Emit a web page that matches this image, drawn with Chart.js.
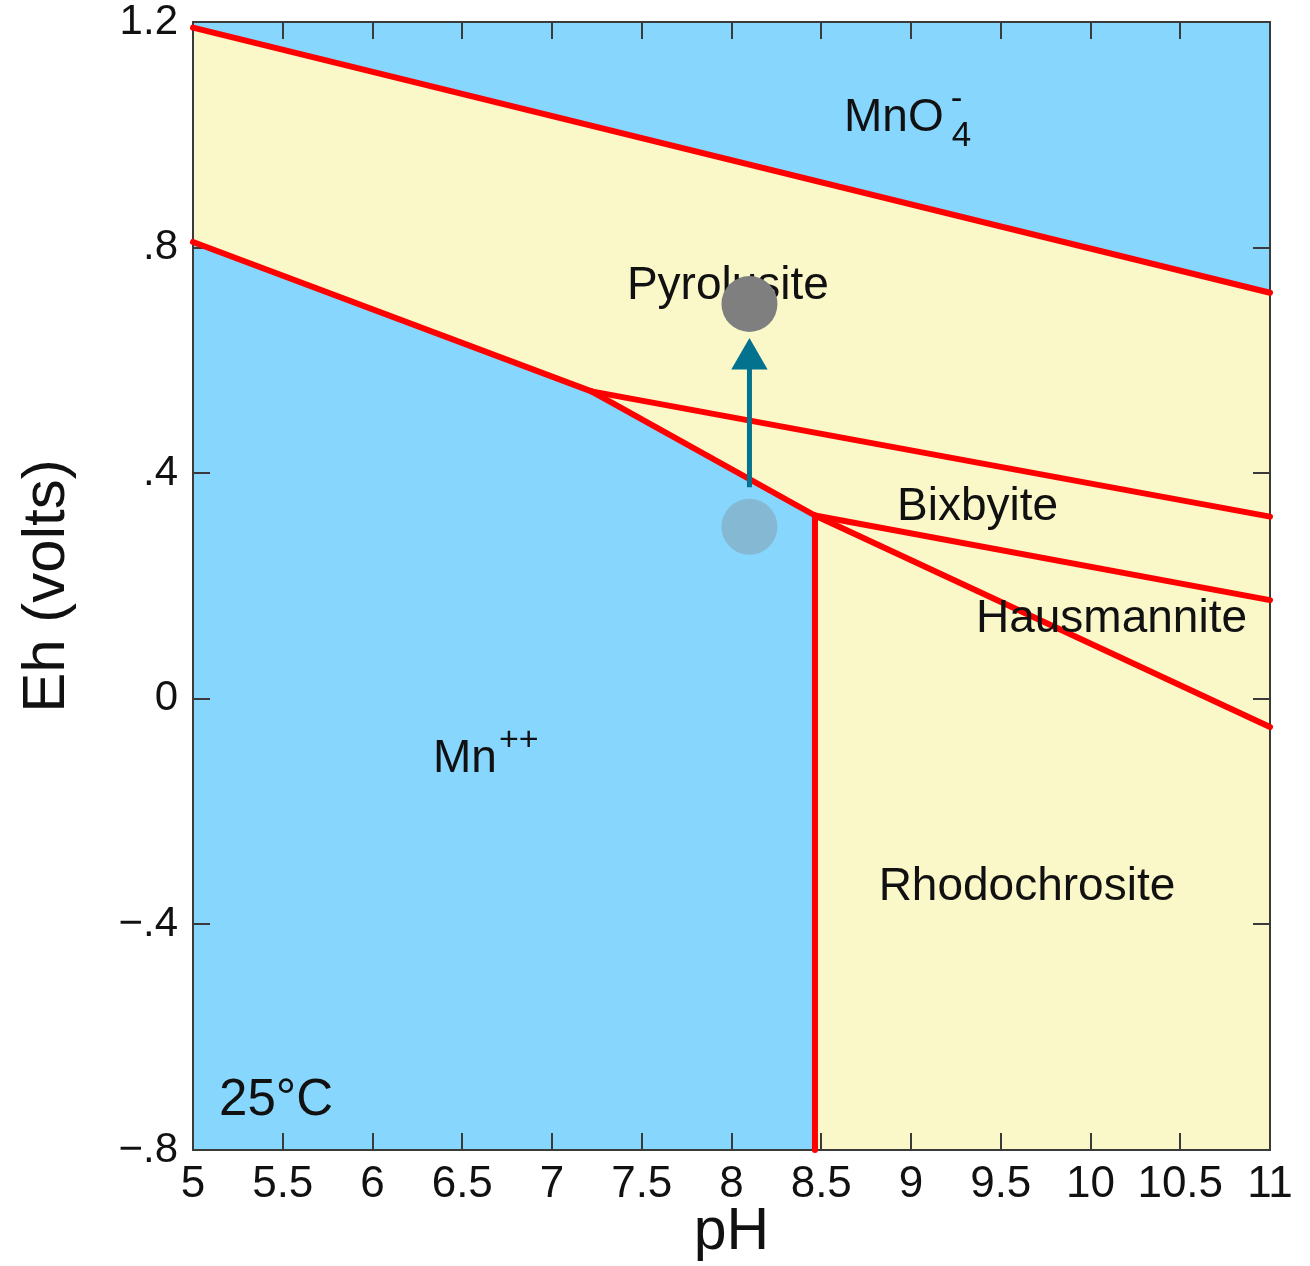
<!DOCTYPE html>
<html>
<head>
<meta charset="utf-8">
<title>Mn Eh-pH diagram, 25°C</title>
<script src="https://cdn.jsdelivr.net/npm/chart.js@4.4.0/dist/chart.umd.min.js"></script>
<style>
    html, body { margin: 0; padding: 0; background: #ffffff; }
    #wrap { width: 1310px; height: 1266px; }
</style>
</head>
<body>
<div id="wrap"><canvas id="ehPhChart"></canvas></div>
<script>
// Axes
const phTicks = [5, 5.5, 6, 6.5, 7, 7.5, 8, 8.5, 9, 9.5, 10, 10.5, 11];
const phTickLabels = ['5', '5.5', '6', '6.5', '7', '7.5', '8', '8.5', '9', '9.5', '10', '10.5', '11'];
const ehTicks = [-0.8, -0.4, 0, 0.4, 0.8, 1.2];
const ehTickLabels = ['\u2212.8', '\u2212.4', '0', '.4', '.8', '1.2'];

// Phase boundaries, [pH, Eh]
const permanganateLine = [[5, 1.19], [11, 0.72]];
const pyrolusiteMnLine = [[5, 0.81], [7.22, 0.545]];
const bixbyiteMnLine = [[7.22, 0.545], [8.465, 0.325]];
const pyrolusiteBixbyiteLine = [[7.22, 0.545], [11, 0.323]];
const bixbyiteHausmanniteLine = [[8.465, 0.325], [11, 0.175]];
const hausmanniteRhodoLine = [[8.465, 0.325], [11, -0.05]];
const rhodochrositeMnLine = [[8.465, 0.325], [8.465, -0.8]];

// Water sample before / after oxidation
const startSample = [[8.1, 0.305]];
const endSample = [[8.1, 0.70]];
const arrowShaft = [[8.1, 0.375], [8.1, 0.6025]];
const arrowHead = [[8.1, 0.6025]];

const FONT = '"Liberation Sans", Arial, Helvetica, sans-serif';
const BLUE = '#87D6FE';
const CREAM = '#FAF8C9';
const RED = '#FF0000';

const toXY = pts => pts.map(p => ({ x: p[0], y: p[1] }));

// solid-phase field: everything between MnO4- and the Mn++ boundaries
const solidField = [
    ...permanganateLine,
    [11, -0.8],
    ...[...rhodochrositeMnLine].reverse(),
    ...[...bixbyiteMnLine].reverse(),
    ...[...pyrolusiteMnLine].reverse()
];

const boundaries = [
    permanganateLine, pyrolusiteMnLine, bixbyiteMnLine, pyrolusiteBixbyiteLine,
    bixbyiteHausmanniteLine, hausmanniteRhodoLine, rhodochrositeMnLine
];

// text placed in data units
const regionLabels = [
    { text: 'Pyrolusite', ph: 7.98, eh: 0.709, size: 46 },
    { text: 'Bixbyite', ph: 9.371, eh: 0.317, size: 46 },
    { text: 'Hausmannite', ph: 10.117, eh: 0.118, size: 46 },
    { text: 'Rhodochrosite', ph: 9.646, eh: -0.357, size: 46 },
    { text: '25°C', ph: 5.145, eh: -0.738, size: 51, align: 'left' },
    { text: 'MnO', ph: 8.627, eh: 1.007, size: 46, align: 'left',
      sub: '4', subDx: 8, subDy: 15, sup: '-', supDx: 7, supDy: -22, small: 35 },
    { text: 'Mn', ph: 6.337, eh: -0.130, size: 46, align: 'left',
      sup: '++', supDx: 2, supDy: -22, small: 34 }
];

function drawRegionLabels(chart) {
    const { ctx, scales: { x, y } } = chart;
    ctx.save();
    ctx.fillStyle = '#111111';
    ctx.textBaseline = 'alphabetic';
    regionLabels.forEach(l => {
        const px = x.getPixelForValue(l.ph);
        const py = y.getPixelForValue(l.eh);
        ctx.font = `${l.size}px ${FONT}`;
        ctx.textAlign = l.align || 'center';
        ctx.fillText(l.text, px, py);
        const w = ctx.measureText(l.text).width;
        ctx.textAlign = 'left';
        ctx.font = `${l.small}px ${FONT}`;
        if (l.sub) ctx.fillText(l.sub, px + w + l.subDx, py + l.subDy);
        if (l.sup) ctx.fillText(l.sup, px + w + l.supDx, py + l.supDy);
    });
    ctx.restore();
}

function drawFrameAndTicks(chart) {
    const { ctx, chartArea: a, scales: { x, y } } = chart;
    const len = 17;
    ctx.save();
    ctx.strokeStyle = '#3a3a3a';
    ctx.lineWidth = 2;
    ctx.beginPath();
    phTicks.forEach(v => {
        const px = Math.round(x.getPixelForValue(v));
        ctx.moveTo(px, a.bottom); ctx.lineTo(px, a.bottom - len);
        ctx.moveTo(px, a.top); ctx.lineTo(px, a.top + len);
    });
    ehTicks.forEach(v => {
        const py = Math.round(y.getPixelForValue(v));
        ctx.moveTo(a.left, py); ctx.lineTo(a.left + len, py);
        ctx.moveTo(a.right, py); ctx.lineTo(a.right - len, py);
    });
    ctx.stroke();
    ctx.strokeRect(a.left, a.top, a.right - a.left, a.bottom - a.top);
    ctx.restore();
}

const diagramPlugin = {
    id: 'diagram',
    beforeDatasetsDraw(chart) {
        const { ctx, chartArea: a } = chart;
        ctx.save();
        ctx.fillStyle = BLUE;
        ctx.fillRect(a.left, a.top, a.right - a.left, a.bottom - a.top);
        ctx.restore();
    },
    afterDatasetDraw(chart, args) {
        if (chart.data.datasets[args.index].id === 'solid') drawFrameAndTicks(chart);
    },
    beforeDatasetDraw(chart, args) {
        if (chart.data.datasets[args.index].id === 'start') drawRegionLabels(chart);
    }
};

const datasets = [
    {
        id: 'solid',
        data: toXY(solidField),
        showLine: true,
        fill: 'shape',
        backgroundColor: CREAM,
        borderWidth: 0,
        pointRadius: 0,
        tension: 0,
        order: 10
    },
    ...boundaries.map(line => ({
        data: toXY(line),
        showLine: true,
        borderColor: RED,
        borderWidth: 6,
        borderCapStyle: 'round',
        pointRadius: 0,
        fill: false,
        clip: 4,
        order: 5
    })),
    {
        id: 'start',
        data: toXY(startSample),
        pointRadius: 28,
        pointBackgroundColor: 'rgba(128, 128, 128, 0.35)',
        pointBorderWidth: 0,
        order: 3
    },
    {
        data: toXY(arrowShaft),
        showLine: true,
        borderColor: '#03728F',
        borderWidth: 5,
        pointRadius: 0,
        order: 2
    },
    {
        data: toXY(arrowHead),
        pointStyle: 'triangle',
        pointRadius: 21,
        pointBackgroundColor: '#03728F',
        pointBorderWidth: 0,
        order: 2
    },
    {
        data: toXY(endSample),
        pointRadius: 28,
        pointBackgroundColor: '#7F7F7F',
        pointBorderWidth: 0,
        order: 1
    }
];

// scale callbacks: fixed axis bands, no automatic edge padding
const noEdgePadding = s => {
    s.paddingTop = 0;
    s.paddingBottom = 0;
    s.paddingLeft = 0;
    s.paddingRight = 0;
};

new Chart(document.getElementById('ehPhChart').getContext('2d'), {
    type: 'scatter',
    data: { datasets: datasets },
    options: {
        responsive: true,
        maintainAspectRatio: false,
        animation: false,
        events: [],
        layout: {
            autoPadding: false,
            padding: { left: 0, top: 22, right: 40, bottom: 0 }
        },
        plugins: {
            legend: { display: false },
            tooltip: { enabled: false }
        },
        scales: {
            x: {
                type: 'linear',
                min: 5,
                max: 11,
                afterBuildTicks: s => { s.ticks = phTicks.map(v => ({ value: v })); },
                afterFit: s => { s.height = 116; noEdgePadding(s); },
                grid: { display: false, drawTicks: false },
                border: { display: false },
                ticks: {
                    callback: (v, i) => phTickLabels[i],
                    autoSkip: false,
                    maxRotation: 0,
                    padding: 8,
                    color: '#111111',
                    font: { family: FONT, size: 44 }
                },
                title: {
                    display: true,
                    text: 'pH',
                    color: '#111111',
                    padding: { top: 0, bottom: 4 },
                    font: { family: FONT, size: 59, lineHeight: 1 }
                }
            },
            y: {
                type: 'linear',
                min: -0.8,
                max: 1.2,
                afterBuildTicks: s => { s.ticks = ehTicks.map(v => ({ value: v })); },
                afterFit: s => { s.width = 193; noEdgePadding(s); },
                grid: { display: false, drawTicks: false },
                border: { display: false },
                ticks: {
                    callback: (v, i) => ehTickLabels[i],
                    autoSkip: false,
                    padding: 15,
                    color: '#111111',
                    font: { family: FONT, size: 42 }
                },
                title: {
                    display: true,
                    text: 'Eh (volts)',
                    color: '#111111',
                    padding: { top: 17, bottom: 0 },
                    font: { family: FONT, size: 60, lineHeight: 1 }
                }
            }
        }
    },
    plugins: [diagramPlugin]
});
</script>
</body>
</html>
